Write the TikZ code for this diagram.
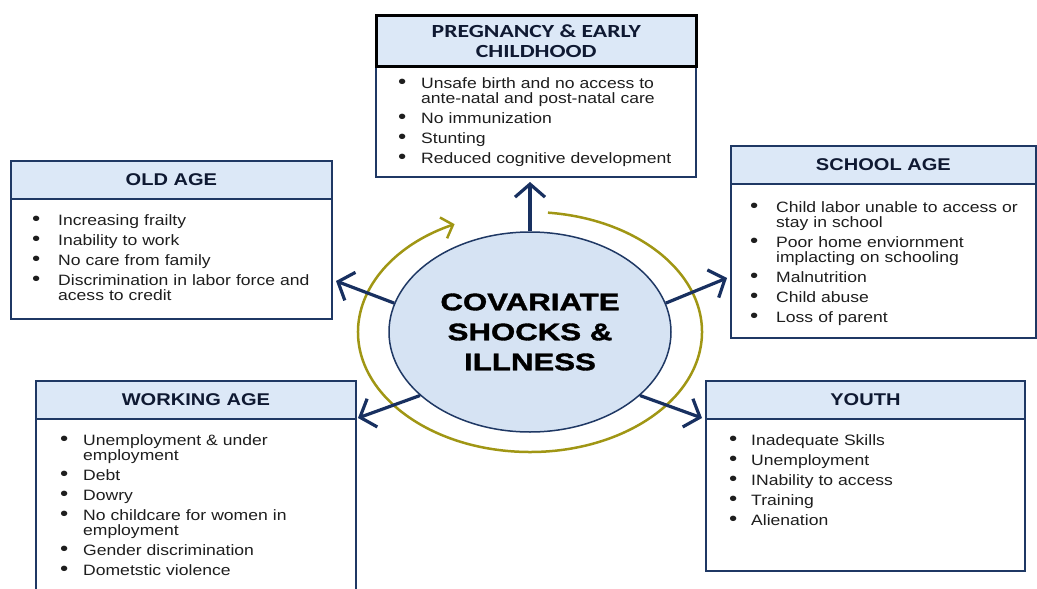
\documentclass[tikz,border=0pt]{standalone}
\usepackage{fontspec}
\setmainfont{Liberation Sans}
\newfontfamily\bodyf[FakeStretch=1.17]{Liberation Sans}
\newfontfamily\headf[FakeStretch=1.18]{Liberation Sans}
\newfontfamily\pregf[FakeStretch=1.28]{Carlito}
\newfontfamily\coref[FakeStretch=1.3,BoldFeatures={FakeBold=1.5}]{Liberation Sans}
\usetikzlibrary{arrows.meta,shapes.geometric}
\definecolor{navy}{RGB}{31,56,100}
\definecolor{arrowc}{RGB}{24,48,96}
\definecolor{hdrfill}{RGB}{220,232,247}
\definecolor{corefill}{RGB}{214,227,243}
\definecolor{gold}{RGB}{160,150,20}
\definecolor{bodytext}{RGB}{30,30,30}
\definecolor{hdrtext}{RGB}{15,25,50}
\newlength\ind
\newcommand\itm[1]{\noindent\hangindent=\ind\hangafter=1\makebox[\ind][l]{\kern-1pt{\fontsize{20}{15}\selectfont\textbullet}}#1\par\vspace{5pt}}
\begin{document}
\begin{tikzpicture}[x=1pt,y=1pt,
  bodybox/.style={draw=navy,line width=1.8pt,fill=white,anchor=north west,inner sep=0},
  hdr/.style={draw=navy,line width=1.8pt,fill=hdrfill,anchor=north west,inner sep=0,
    font=\headf\bfseries\fontsize{17}{20}\selectfont,text=hdrtext,align=center},
  list/.style={anchor=base west,inner sep=0,text width=340pt,align=left,
    font=\bodyf\fontsize{15}{15}\selectfont,text=bodytext},
  arr/.style={draw=arrowc,line width=3.2pt,-{Straight Barb[length=13pt,width=30pt]}},
  ring/.style={draw=gold,line width=2.5pt,-{Straight Barb[length=10pt,width=22pt]}}]
\useasboundingbox (0,0) rectangle (1037,-589);
\clip (0,0) rectangle (1037,-589);

% Pregnancy & early childhood
\node[bodybox,minimum width=320,minimum height=111] (pregB) at (375,-65) {};
\node[hdr,draw=black,line width=2.5pt,minimum width=320,minimum height=51,
  font=\pregf\bfseries\fontsize{18.5}{20}\selectfont] (pregH) at (375,-14) {PREGNANCY \& EARLY\\CHILDHOOD};
\node[list] (pregL) at (399,-88) {\setlength\ind{22pt}%
\itm{Unsafe birth and no access to\newline ante-natal and post-natal care}%
\itm{No immunization}%
\itm{Stunting}%
\itm{Reduced cognitive development}};

% Old age
\node[bodybox,minimum width=321,minimum height=120] (oldB) at (10,-198) {};
\node[hdr,minimum width=321,minimum height=38] (oldH) at (10,-160) {OLD AGE};
\node[list] (oldL) at (33,-225) {\setlength\ind{25pt}%
\itm{Increasing frailty}%
\itm{Inability to work}%
\itm{No care from family}%
\itm{Discrimination in labor force and\newline acess to credit}};

% School age
\node[bodybox,minimum width=305,minimum height=154] (schB) at (730,-183) {};
\node[hdr,minimum width=305,minimum height=38] (schH) at (730,-145) {SCHOOL AGE};
\node[list] (schL) at (751,-212) {\setlength\ind{25pt}%
\itm{Child labor unable to access or\newline stay in school}%
\itm{Poor home enviornment\newline implacting on schooling}%
\itm{Malnutrition}%
\itm{Child abuse}%
\itm{Loss of parent}};

% Working age
\node[bodybox,minimum width=320,minimum height=190] (wrkB) at (35,-418) {};
\node[hdr,minimum width=320,minimum height=38] (wrkH) at (35,-380) {WORKING AGE};
\node[list] (wrkL) at (61,-445) {\setlength\ind{22pt}%
\itm{Unemployment \& under\newline employment}%
\itm{Debt}%
\itm{Dowry}%
\itm{No childcare for women in\newline employment}%
\itm{Gender discrimination}%
\itm{Dometstic violence}};

% Youth
\node[bodybox,minimum width=319,minimum height=152] (youB) at (705,-418) {};
\node[hdr,minimum width=319,minimum height=38] (youH) at (705,-380) {YOUTH};
\node[list] (youL) at (730,-445) {\setlength\ind{21pt}%
\itm{Inadequate Skills}%
\itm{Unemployment}%
\itm{INability to access}%
\itm{Training}%
\itm{Alienation}};

% Centre
\node[ellipse,draw=navy,line width=1.5pt,fill=corefill,minimum width=282,minimum height=200,
  inner sep=0,align=center,font=\coref\bfseries\fontsize{24}{30}\selectfont,text=black] (core) at (530,-332)
  {COVARIATE\\SHOCKS \&\\ILLNESS};

% Cycle ring
\draw[ring] ([shift={(84:172 and 120)}]core.center) arc[start angle=84,end angle=-244,x radius=172,y radius=120];

% Arrows
\coordinate (tPreg) at (530,-182);
\coordinate (tOld) at (336,-281);
\coordinate (tSch) at (727,-278);
\coordinate (tWrk) at (358,-418);
\coordinate (tYou) at (702,-418);
\draw[arr] (core.north) -- (tPreg);
\draw[arr] (core.168) -- (tOld);
\draw[arr] (core.12.5) -- (tSch);
\draw[arr] (core.210) -- (tWrk);
\draw[arr] (core.330) -- (tYou);
\end{tikzpicture}
\end{document}
